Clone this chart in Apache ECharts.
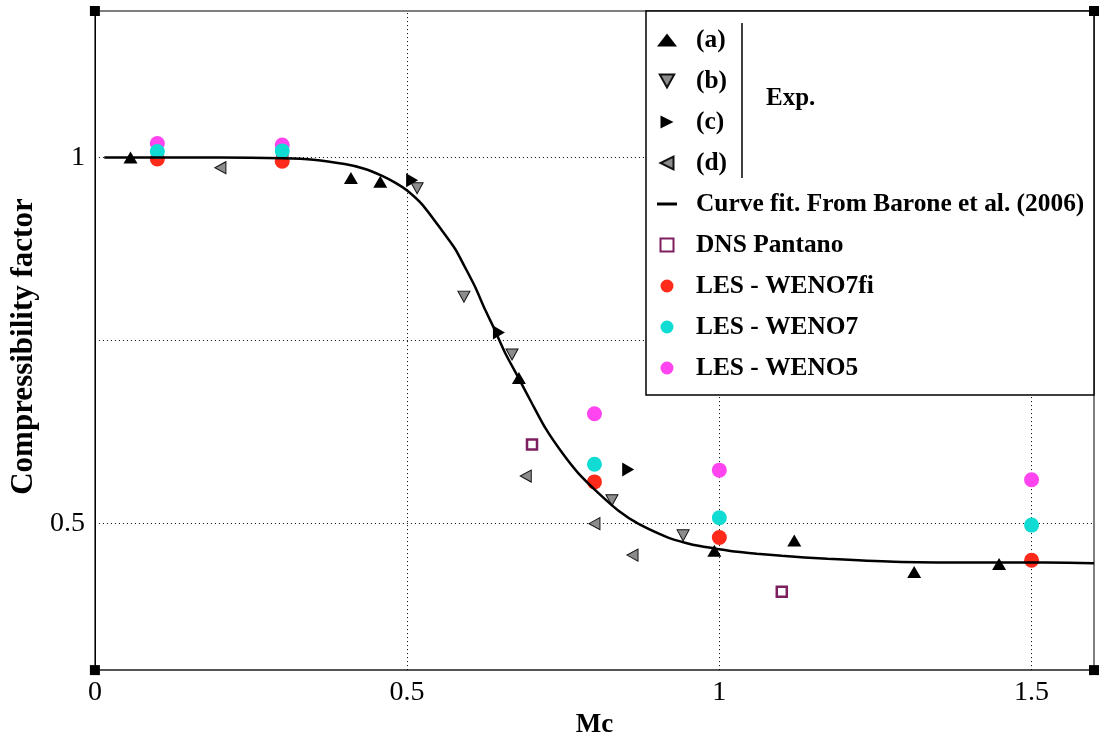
<!DOCTYPE html>
<html>
<head>
<meta charset="utf-8">
<script src="https://cdn.jsdelivr.net/npm/echarts@6.0.0/dist/echarts.min.js"></script>
<style>
html, body { margin: 0; padding: 0; background: #fff; }
#chart { width: 1101px; height: 744px; }
</style>
</head>
<body>
<div id="chart"></div>
<script>
// experimental data, [Mc, compressibility factor]
const expA = [[0.057, 1.0], [0.41, 0.972], [0.457, 0.967], [0.679, 0.699], [0.992, 0.463], [1.12, 0.477], [1.312, 0.434], [1.448, 0.445]];
const expB = [[0.516, 0.958], [0.591, 0.81], [0.668, 0.731], [0.828, 0.532], [0.942, 0.484]];
const expC = [[0.508, 0.969], [0.647, 0.761], [0.854, 0.574]];
const expD = [[0.201, 0.986], [0.69, 0.565], [0.8, 0.5], [0.861, 0.457]];

// curve fit (Barone et al. 2006)
const fitX = [0.015, 0.1, 0.2, 0.3, 0.35, 0.4, 0.43, 0.46, 0.48, 0.5, 0.525, 0.556, 0.577, 0.594, 0.609, 0.625, 0.639, 0.657, 0.679, 0.7, 0.721, 0.748, 0.774, 0.806, 0.838, 0.87, 0.918, 0.945, 0.971, 1.0, 1.024, 1.06, 1.1, 1.173, 1.28, 1.4, 1.52, 1.6];
const fitY = [1.0, 1.0, 1.0, 0.999, 0.997, 0.991, 0.985, 0.975, 0.966, 0.955, 0.935, 0.9, 0.875, 0.848, 0.823, 0.792, 0.767, 0.733, 0.698, 0.664, 0.631, 0.597, 0.569, 0.542, 0.518, 0.5, 0.481, 0.474, 0.469, 0.465, 0.462, 0.459, 0.456, 0.452, 0.448, 0.447, 0.447, 0.446];

// simulations
const dns = [[0.3, 1.0], [0.7, 0.608], [1.1, 0.407]];
const lesX = [0.1, 0.3, 0.8, 1.0, 1.5];
const weno7fi = [0.998, 0.995, 0.557, 0.481, 0.450];
const weno7 = [1.008, 1.009, 0.581, 0.508, 0.498];
const weno5 = [1.019, 1.017, 0.650, 0.573, 0.560];

// grid lines and tick labels
const gridX = [0.5, 1, 1.5];
const gridY = [0.5, 0.75, 1];
const yLabels = [0.5, 1];

const serif = "'Liberation Serif', 'DejaVu Serif', serif";
const zip = (xs, ys) => xs.map((x, i) => [x, ys[i]]);

const chart = echarts.init(document.getElementById("chart"));

const gridLines = gridY.map((v) => ({ yAxis: v })).concat(gridX.map((v) => ({ xAxis: v })));

const grayTri = { color: "#8c8c8c", borderColor: "#111", borderWidth: 1, opacity: 1 };
const squarePath = "path://M0,0 L10,0 L10,10 L0,10 Z";

chart.setOption({
  animation: false,
  backgroundColor: "#fff",
  grid: {
    left: 92,
    right: 7,
    top: 11,
    bottom: 64,
    show: true,
    borderColor: "#555",
    borderWidth: 1.5,
  },
  xAxis: {
    type: "value",
    min: 0,
    max: 1.6,
    interval: 0.5,
    name: "Mc",
    nameLocation: "middle",
    nameGap: 33,
    nameTextStyle: { fontFamily: serif, fontWeight: "bold", fontSize: 27, color: "#000" },
    axisLine: { lineStyle: { color: "#555", width: 2 } },
    axisTick: { show: false },
    splitLine: { show: false },
    axisLabel: {
      fontFamily: serif,
      fontSize: 28,
      color: "#000",
      margin: 9,
      showMaxLabel: false,
      formatter: (v) => (v > 1.55 ? "" : String(v)),
    },
  },
  yAxis: {
    type: "value",
    min: 0.3,
    max: 1.2,
    interval: 0.1,
    name: "Compressibility factor",
    nameLocation: "middle",
    nameGap: 55,
    nameTextStyle: { fontFamily: serif, fontWeight: "bold", fontSize: 31, color: "#000", padding: [0, 12, 0, 0] },
    axisLine: { lineStyle: { color: "#000", width: 1 } },
    axisTick: { show: false },
    splitLine: { show: false },
    axisLabel: {
      fontFamily: serif,
      fontSize: 28,
      color: "#000",
      margin: 10,
      formatter: (v) => {
        const hit = yLabels.find((t) => Math.abs(t - v) < 1e-6);
        return hit === undefined ? "" : String(hit);
      },
    },
  },
  legend: {
    orient: "vertical",
    left: 657,
    top: 27,
    padding: 0,
    itemWidth: 20,
    itemHeight: 13,
    itemGap: 15,
    z: 6,
    data: [
      "(a)",
      "(b)",
      "(c)",
      "(d)",
      { name: "Curve fit. From Barone et al. (2006)", icon: "path://M0,0 L20,0 L20,3 L0,3 Z" },
      { name: "DNS Pantano", icon: squarePath },
      "LES - WENO7fi",
      "LES - WENO7",
      "LES - WENO5",
    ],
    textStyle: {
      fontFamily: serif,
      fontWeight: "bold",
      fontSize: 25.4,
      color: "#000",
      lineHeight: 26,
      padding: [0, 0, 0, 14],
    },
  },
  series: [
    {
      name: "Curve fit. From Barone et al. (2006)",
      type: "line",
      data: zip(fitX, fitY),
      symbol: "none",
      smooth: 0.2,
      lineStyle: { color: "#000", width: 2.5 },
      itemStyle: { color: "#000" },
      markLine: {
        silent: true,
        z: 1,
        symbol: ["none", "none"],
        label: { show: false },
        lineStyle: { type: [1, 3], color: "#000", width: 1 },
        data: gridLines,
      },
    },
    {
      name: "(a)",
      type: "scatter",
      data: expA,
      symbol: "triangle",
      symbolSize: [14, 12],
      itemStyle: { color: "#000", opacity: 1 },
    },
    {
      name: "(b)",
      type: "scatter",
      data: expB,
      symbol: "path://M0,0 L10,0 L5,9 Z",
      symbolSize: [12, 11],
      itemStyle: grayTri,
    },
    {
      name: "(c)",
      type: "scatter",
      data: expC,
      symbol: "path://M0,0 L10,5 L0,10 Z",
      symbolSize: [12, 14],
      itemStyle: { color: "#000", opacity: 1 },
    },
    {
      name: "(d)",
      type: "scatter",
      data: expD,
      symbol: "path://M10,0 L10,10 L0,5 Z",
      symbolSize: [11, 12],
      itemStyle: grayTri,
    },
    {
      name: "DNS Pantano",
      type: "scatter",
      data: dns,
      symbol: squarePath,
      symbolSize: 10,
      itemStyle: { color: "#fff", borderColor: "#7d1f5e", borderWidth: 2.5, opacity: 1 },
    },
    {
      name: "LES - WENO7fi",
      type: "scatter",
      data: zip(lesX, weno7fi),
      symbol: "circle",
      symbolSize: 15,
      itemStyle: { color: "#ff2a1a", opacity: 1 },
    },
    {
      name: "LES - WENO5",
      type: "scatter",
      data: zip(lesX, weno5),
      symbol: "circle",
      symbolSize: 15,
      itemStyle: { color: "#ff44f0", opacity: 1 },
    },
    {
      name: "LES - WENO7",
      type: "scatter",
      data: zip(lesX, weno7),
      symbol: "circle",
      symbolSize: 15,
      itemStyle: { color: "#10dcd3", opacity: 1 },
    },
  ],
});

// legend frame, the Exp. bracket and the corner squares
const tl = chart.convertToPixel({ gridIndex: 0 }, [0, 1.2]);
const br = chart.convertToPixel({ gridIndex: 0 }, [1.6, 0.3]);
const corners = [[tl[0], tl[1]], [br[0], tl[1]], [tl[0], br[1]], [br[0], br[1]]];

chart.setOption({
  graphic: [
    {
      type: "rect",
      z: 3,
      shape: { x: 646, y: tl[1], width: br[0] - 646, height: 395 - tl[1] },
      style: { fill: "#fff", stroke: "#000", lineWidth: 1.5 },
    },
    {
      type: "line",
      z: 7,
      shape: { x1: 742, y1: 23, x2: 742, y2: 178 },
      style: { stroke: "#000", lineWidth: 1.5 },
    },
    {
      type: "text",
      z: 7,
      x: 766,
      y: 99,
      style: {
        text: "Exp.",
        font: "bold 25px " + serif,
        fill: "#000",
        verticalAlign: "middle",
      },
    },
  ].concat(
    corners.map((c) => ({
      type: "rect",
      z: 8,
      shape: { x: c[0] - 5, y: c[1] - 5, width: 10, height: 10 },
      style: { fill: "#000" },
    }))
  ),
});
</script>
</body>
</html>
